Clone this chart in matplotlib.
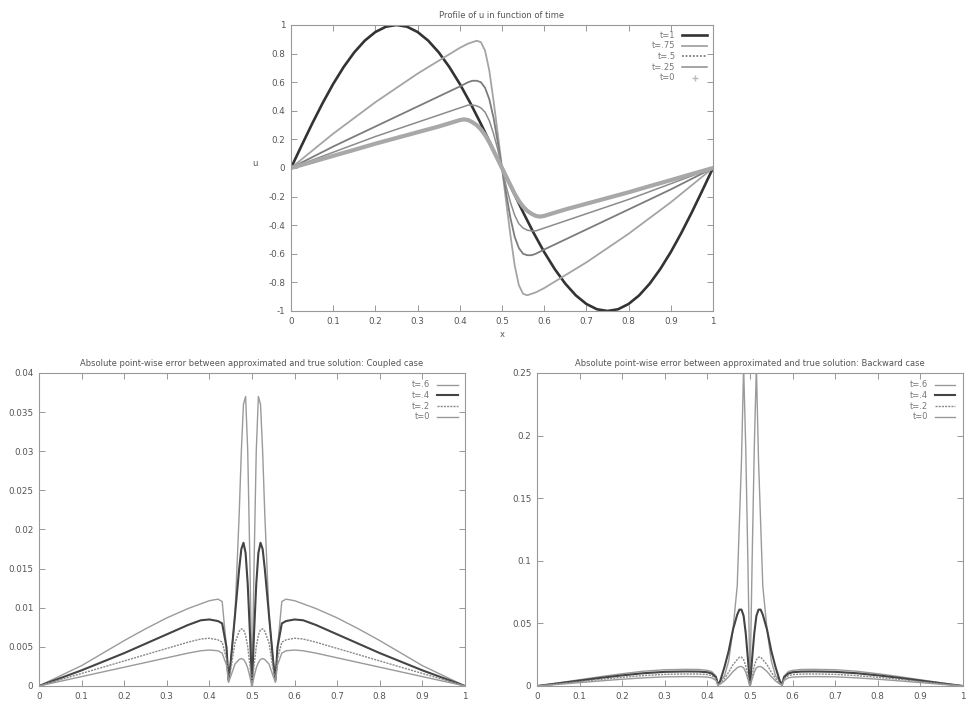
import matplotlib.pyplot as plt
from matplotlib.lines import Line2D

# profile of u, sampled on x_top (the t=1 curve has its own finer grid)
x_sine = [0, .025, .05, .075, .1, .125, .15, .175, .2, .225, .25, .275, .3, .325, .35, .375,
          .4, .425, .45, .475, .5, .525, .55, .575, .6, .625, .65, .675, .7, .725, .75,
          .775, .8, .825, .85, .875, .9, .925, .95, .975, 1]
u_t1 = [0, .156, .309, .454, .588, .707, .809, .891, .951, .988, 1, .988, .951, .891, .809, .707,
        .588, .454, .309, .156, 0, -.156, -.309, -.454, -.588, -.707, -.809, -.891, -.951, -.988, -1,
        -.988, -.951, -.891, -.809, -.707, -.588, -.454, -.309, -.156, 0]

x_top = [0, .05, .1, .15, .2, .25, .3, .35,
         .40, .41, .42, .43, .44, .45, .46, .47, .48, .49, .50,
         .51, .52, .53, .54, .55, .56, .57, .58, .59, .60,
         .65, .7, .75, .8, .85, .9, .95, 1]
u_t75 = [0, .12, .24, .35, .46, .56, .66, .75,
         .84, .855, .87, .88, .89, .88, .82, .68, .47, .24, 0,
         -.24, -.47, -.68, -.82, -.88, -.89, -.88, -.87, -.855, -.84,
         -.75, -.66, -.56, -.46, -.35, -.24, -.12, 0]
u_t5 = [0, .075, .15, .22, .29, .36, .43, .50,
        .57, .585, .60, .61, .61, .60, .56, .48, .35, .18, 0,
        -.18, -.35, -.48, -.56, -.60, -.61, -.61, -.60, -.585, -.57,
        -.50, -.43, -.36, -.29, -.22, -.15, -.075, 0]
u_t25 = [0, .055, .11, .165, .22, .27, .32, .37,
         .42, .43, .44, .44, .435, .42, .39, .33, .24, .13, 0,
         -.13, -.24, -.33, -.39, -.42, -.435, -.44, -.44, -.43, -.42,
         -.37, -.32, -.27, -.22, -.165, -.11, -.055, 0]
u_t0 = [0, .042, .085, .127, .17, .21, .25, .29,
        .335, .34, .335, .32, .30, .27, .23, .18, .12, .06, 0,
        -.06, -.12, -.18, -.23, -.27, -.30, -.32, -.335, -.34, -.335,
        -.29, -.25, -.21, -.17, -.127, -.085, -.042, 0]

# coupled case error
x_cpl = [0, .05, .1, .15, .2, .25, .3, .35, .38, .4, .42, .43, .44, .445,
         .45, .46, .47, .475, .48, .485, .49, .495, .5,
         .505, .51, .515, .52, .525, .53, .54, .55, .555,
         .56, .57, .58, .6, .62, .65, .7, .75, .8, .85, .9, .95, 1]
cpl_t6 = [0, .0013, .0026, .0042, .0058, .0073, .0087, .0099, .0105, .0109, .0111, .0108, .005, .0005,
          .003, .009, .022, .030, .036, .037, .030, .016, 0,
          .016, .030, .037, .036, .030, .022, .009, .003, .0005,
          .005, .0108, .0111, .0109, .0105, .0099, .0087, .0073, .0058, .0042, .0026, .0013, 0]
cpl_t4 = [0, .001, .002, .0031, .0042, .0054, .0066, .0078, .0084, .0085, .0083, .008, .005, .0008,
          .003, .009, .015, .0175, .0183, .017, .013, .007, 0,
          .007, .013, .017, .0183, .0175, .015, .009, .003, .0008,
          .005, .008, .0083, .0085, .0084, .0078, .0066, .0054, .0042, .0031, .002, .001, 0]
cpl_t2 = [0, .0008, .0016, .0024, .0032, .004, .0048, .0056, .006, .0061, .0059, .0056, .0035, .0006,
          .002, .0055, .007, .0073, .0072, .0065, .005, .0027, 0,
          .0027, .005, .0065, .0072, .0073, .007, .0055, .002, .0006,
          .0035, .0056, .0059, .0061, .006, .0056, .0048, .004, .0032, .0024, .0016, .0008, 0]
cpl_t0 = [0, .0006, .0012, .0018, .0024, .003, .0036, .0042, .0045, .0046, .0045, .0042, .0027, .0005,
          .0012, .0028, .0034, .0035, .0034, .003, .0023, .0012, 0,
          .0012, .0023, .003, .0034, .0035, .0034, .0028, .0012, .0005,
          .0027, .0042, .0045, .0046, .0045, .0042, .0036, .003, .0024, .0018, .0012, .0006, 0]

# backward case error
x_bwd = [0, .05, .1, .15, .2, .25, .3, .35, .38, .4, .41, .42, .425,
         .43, .44, .45, .46, .47, .475, .48, .485, .49, .495, .5,
         .505, .51, .515, .52, .525, .53, .54, .55, .56, .57,
         .575, .58, .59, .6, .62, .65, .7, .75, .8, .85, .9, .95, 1]
bwd_t6 = [0, .0025, .005, .0075, .0098, .0118, .013, .0133, .0132, .0125, .0115, .008, .001,
          .004, .008, .02, .045, .08, .13, .18, .255, .19, .1, 0,
          .1, .19, .255, .18, .13, .08, .045, .02, .008, .004,
          .001, .008, .0115, .0125, .0132, .0133, .013, .0118, .0098, .0075, .005, .0025, 0]
bwd_t4 = [0, .0021, .0043, .0065, .0085, .0102, .0113, .0116, .0115, .011, .01, .007, .001,
          .004, .015, .028, .045, .057, .061, .061, .056, .042, .022, 0,
          .022, .042, .056, .061, .061, .057, .045, .028, .015, .004,
          .001, .007, .01, .011, .0115, .0116, .0113, .0102, .0085, .0065, .0043, .0021, 0]
bwd_t2 = [0, .0017, .0035, .0053, .0069, .0083, .0093, .0096, .0095, .0091, .0083, .0058, .001,
          .002, .006, .011, .017, .021, .023, .023, .021, .016, .008, 0,
          .008, .016, .021, .023, .023, .021, .017, .011, .006, .002,
          .001, .0058, .0083, .0091, .0095, .0096, .0093, .0083, .0069, .0053, .0035, .0017, 0]
bwd_t0 = [0, .0013, .0027, .0041, .0054, .0065, .0073, .0075, .0074, .0071, .0065, .0045, .0008,
          .0015, .004, .0075, .0115, .0145, .0155, .0155, .0145, .011, .0055, 0,
          .0055, .011, .0145, .0155, .0155, .0145, .0115, .0075, .004, .0015,
          .0008, .0045, .0065, .0071, .0074, .0075, .0073, .0065, .0054, .0041, .0027, .0013, 0]

x_ticks = [0, .1, .2, .3, .4, .5, .6, .7, .8, .9, 1]
x_ticklabels = ["0", "0.1", "0.2", "0.3", "0.4", "0.5", "0.6", "0.7", "0.8", "0.9", "1"]

txt = "#555555"
fs = 6
fs_tick = 6.3


def style_axes(ax, yticks, ylabels, title):
    ax.set_xlim(0, 1)
    ax.set_xticks(x_ticks)
    ax.set_xticklabels(x_ticklabels)
    ax.set_yticks(yticks)
    ax.set_yticklabels(ylabels)
    ax.set_ylim(yticks[0], yticks[-1])
    ax.tick_params(direction="in", top=True, right=True, length=4, width=0.6,
                   colors="#888888", labelcolor=txt, labelsize=fs_tick, pad=4)
    for s in ax.spines.values():
        s.set_color("#999999")
        s.set_linewidth(0.8)
    ax.set_title(title, fontsize=fs, color=txt, pad=5)


fig = plt.figure(figsize=(9.69, 7.02), dpi=100)

ax1 = fig.add_axes([0.3003, 0.557, 0.4355, 0.4074])
ax1.plot(x_sine, u_t1, color="#333333", lw=1.9)
ax1.plot(x_top, u_t75, color="#a4a4a4", lw=1.3)
ax1.plot(x_top, u_t5, color="#7c7c7c", lw=1.3)
ax1.plot(x_top, u_t25, color="#8c8c8c", lw=1.1)
ax1.plot(x_top, u_t0, color="#a8a8a8", lw=3)
style_axes(ax1, [-1, -.8, -.6, -.4, -.2, 0, .2, .4, .6, .8, 1],
           ["-1", "-0.8", "-0.6", "-0.4", "-0.2", "0", "0.2", "0.4", "0.6", "0.8", "1"],
           "Profile of u in function of time")
ax1.set_xlabel("x", fontsize=fs, color=txt, labelpad=3)
ax1.set_ylabel("u", fontsize=fs, color=txt, rotation=0, labelpad=10)
handles = [Line2D([], [], color="#333333", lw=1.9),
           Line2D([], [], color="#a4a4a4", lw=1.3),
           Line2D([], [], color="#7c7c7c", lw=1.3, ls=(0, (1, 1))),
           Line2D([], [], color="#8c8c8c", lw=1.1),
           Line2D([], [], color="#bbbbbb", lw=0, marker="+", markersize=4)]
ax1.legend(handles, ["t=1", "t=.75", "t=.5", "t=.25", "t=0"], loc="upper right",
           frameon=False, markerfirst=False, fontsize=fs, labelcolor="#777777",
           handlelength=3, labelspacing=0.2, borderaxespad=0.3)

ax2 = fig.add_axes([0.0402, 0.0228, 0.4397, 0.4459])
ax2.plot(x_cpl, cpl_t6, color="#9a9a9a", lw=1)
ax2.plot(x_cpl, cpl_t4, color="#444444", lw=1.5)
ax2.plot(x_cpl, cpl_t2, color="#8a8a8a", lw=1, ls=(0, (1.5, 0.8)))
ax2.plot(x_cpl, cpl_t0, color="#9a9a9a", lw=1)
style_axes(ax2, [0, .005, .01, .015, .02, .025, .03, .035, .04],
           ["0", "0.005", "0.01", "0.015", "0.02", "0.025", "0.03", "0.035", "0.04"],
           "Absolute point-wise error between approximated and true solution: Coupled case")
ax2.legend(["t=.6", "t=.4", "t=.2", "t=0"], loc="upper right", frameon=False,
           markerfirst=False, fontsize=fs, labelcolor="#777777",
           handlelength=2.5, labelspacing=0.2, borderaxespad=0.5)

ax3 = fig.add_axes([0.5542, 0.0228, 0.4396, 0.4459])
ax3.plot(x_bwd, bwd_t6, color="#9a9a9a", lw=1)
ax3.plot(x_bwd, bwd_t4, color="#444444", lw=1.5)
ax3.plot(x_bwd, bwd_t2, color="#8a8a8a", lw=1, ls=(0, (1.5, 0.8)))
ax3.plot(x_bwd, bwd_t0, color="#9a9a9a", lw=1)
style_axes(ax3, [0, .05, .1, .15, .2, .25],
           ["0", "0.05", "0.1", "0.15", "0.2", "0.25"],
           "Absolute point-wise error between approximated and true solution: Backward case")
ax3.legend(["t=.6", "t=.4", "t=.2", "t=0"], loc="upper right", frameon=False,
           markerfirst=False, fontsize=fs, labelcolor="#777777",
           handlelength=2.5, labelspacing=0.2, borderaxespad=0.5)

plt.savefig("out.png", dpi=100)
